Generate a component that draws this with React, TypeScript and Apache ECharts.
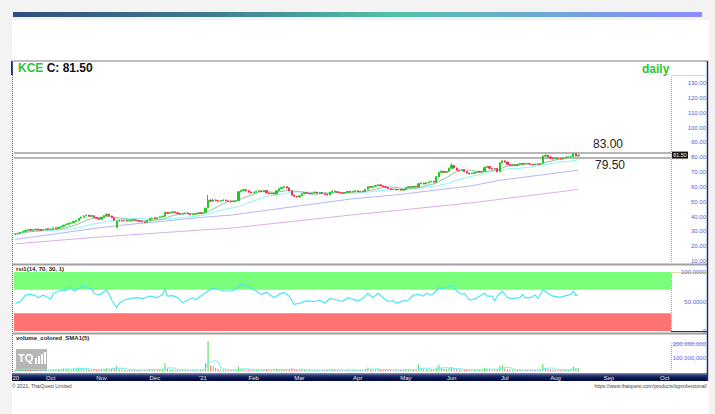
import React, { useEffect, useRef } from "react";
import * as echarts from "echarts";

const FONT = "'Liberation Sans', Arial, sans-serif";
const symbolName = "KCE";
const lastClose = 81.5;
const N = 259;

// [open, close, low, high] per trading day
const ohlc: number[][] = [
  [28.0,28.2,27.6,28.6],[28.4,28.8,28.0,29.0],[28.8,29.4,28.6,29.6],[29.6,30.0,29.2,30.4],[30.0,30.6,29.8,31.0],
  [30.8,31.2,30.4,31.6],[31.4,30.8,30.6,31.6],[30.8,31.0,30.4,31.4],[31.0,31.4,30.8,31.8],[31.6,31.0,30.8,31.8],
  [31.2,30.8,30.4,31.4],[30.8,31.2,30.6,31.4],[31.2,31.6,31.0,32.0],[31.8,31.2,31.0,32.0],[31.2,31.6,31.0,31.8],
  [31.8,32.2,31.4,32.6],[32.4,32.0,31.8,32.6],[32.0,32.8,31.8,33.0],[32.8,33.4,32.6,33.6],[33.4,34.2,33.2,34.4],
  [34.4,34.8,34.0,35.2],[34.8,35.4,34.6,35.8],[35.6,35.8,35.2,36.2],[35.8,36.6,35.6,36.8],[36.6,37.4,36.4,37.6],
  [37.4,38.8,37.2,39.0],[39.0,39.6,38.6,40.0],[39.6,40.4,39.4,40.8],[40.6,40.8,40.2,41.4],[41.0,40.2,40.0,41.2],
  [40.2,40.6,39.8,41.0],[40.6,39.4,39.2,40.8],[39.4,38.8,38.4,39.6],[38.8,38.2,37.8,39.0],[38.2,39.4,38.0,39.6],
  [39.4,40.6,39.2,40.8],[40.6,41.6,40.4,42.0],[41.6,40.4,40.2,41.8],[40.4,39.2,39.0,40.6],[39.2,37.6,37.2,39.4],
  [32.8,37.0,32.2,37.4],[37.0,37.2,36.6,37.8],[37.4,37.0,36.8,37.8],[37.0,37.4,36.8,37.8],[37.6,37.0,36.8,37.8],
  [37.0,37.2,36.8,37.6],[37.2,37.8,37.0,38.2],[37.8,37.6,37.2,38.0],[37.6,37.2,37.0,37.8],[37.2,36.8,36.6,37.4],
  [36.8,36.4,36.2,37.0],[36.4,36.2,35.8,36.6],[36.2,37.4,36.0,37.6],[37.4,38.6,37.2,38.8],[38.6,39.0,38.4,39.4],
  [39.2,38.6,38.4,39.4],[38.6,39.2,38.4,39.4],[39.2,39.8,39.0,40.2],[39.8,40.2,39.6,40.6],[40.2,42.8,40.0,43.4],
  [42.8,42.2,41.8,43.0],[42.2,42.6,42.0,43.0],[42.6,43.2,42.4,43.6],[43.2,42.6,42.4,43.4],[42.6,42.0,41.8,42.8],
  [42.0,41.6,41.4,42.2],[41.6,42.0,41.4,42.4],[42.0,42.4,41.8,42.6],[42.4,41.8,41.6,42.6],[41.8,41.2,41.0,42.0],
  [41.2,41.6,41.0,41.8],[41.6,42.0,41.4,42.2],[42.0,42.6,41.8,42.8],[42.6,42.2,42.0,42.8],[42.2,42.8,42.0,43.0],
  [43.0,45.6,42.8,46.0],[46.0,51.0,45.8,54.6],[51.0,50.4,49.8,51.6],[50.4,51.2,50.2,51.8],[51.2,50.8,50.4,51.6],
  [50.8,50.4,50.0,51.0],[50.4,50.8,50.2,51.2],[50.8,51.2,50.6,51.6],[51.2,50.6,50.4,51.4],[50.6,50.2,50.0,50.8],
  [50.2,50.0,49.6,50.6],[50.0,50.4,49.8,50.6],[50.4,50.6,50.2,51.0],[50.8,56.8,50.6,57.2],[56.8,57.6,56.4,58.0],
  [57.6,58.2,57.2,58.6],[58.2,57.4,57.0,58.4],[57.4,56.6,56.2,57.6],[56.6,56.0,55.6,56.8],[56.0,56.4,55.8,56.8],
  [56.4,57.0,56.2,57.4],[57.0,57.4,56.8,57.8],[57.4,56.8,56.6,57.6],[56.8,57.6,56.6,58.0],[57.6,56.0,55.8,57.8],
  [56.0,55.4,55.0,56.2],[55.4,55.8,55.2,56.0],[55.8,55.2,55.0,56.0],[55.2,57.4,55.0,57.6],[57.4,58.8,57.2,59.0],
  [58.8,59.6,58.6,60.0],[59.6,60.2,59.2,60.6],[60.2,59.4,59.0,60.4],[59.4,57.4,57.2,59.6],[57.4,54.6,54.2,57.6],
  [54.6,53.6,53.2,54.8],[53.6,53.2,52.8,53.8],[53.2,54.0,53.0,54.4],[54.0,55.4,53.8,55.6],[55.4,56.2,55.2,56.4],
  [56.2,55.8,55.6,56.6],[55.8,55.4,55.2,56.0],[55.4,56.0,55.2,56.2],[56.0,56.4,55.8,56.8],[56.4,55.8,55.6,56.6],
  [55.8,56.2,55.6,56.4],[56.2,55.6,55.4,56.4],[55.6,55.0,54.8,55.8],[55.0,54.6,54.2,55.2],[54.6,56.4,54.4,56.6],
  [56.4,57.2,56.2,57.6],[57.2,56.8,56.6,57.4],[56.8,56.4,56.2,57.0],[56.4,56.0,55.8,56.6],[56.0,55.8,55.6,56.2],
  [55.8,56.4,55.6,56.6],[56.4,57.0,56.2,57.2],[57.0,56.6,56.4,57.2],[56.6,57.0,56.4,57.2],[57.0,57.4,56.8,57.6],
  [57.4,56.8,56.6,57.6],[56.8,57.2,56.6,57.4],[57.2,57.0,56.8,57.4],[57.0,58.4,56.8,58.6],[58.4,60.2,58.2,60.6],
  [60.2,59.8,59.4,60.4],[59.8,60.4,59.6,60.8],[60.4,60.8,60.2,61.2],[60.8,61.4,60.6,61.8],[61.4,60.8,60.6,61.6],
  [60.8,60.2,60.0,61.0],[60.2,59.6,59.4,60.4],[59.6,58.8,58.6,59.8],[58.8,58.2,58.0,59.0],[58.2,58.6,58.0,58.8],
  [58.6,58.0,57.8,58.8],[58.0,58.4,57.8,58.6],[58.4,57.8,57.6,58.6],[57.8,58.2,57.6,58.4],[58.2,59.6,58.0,59.8],
  [59.6,60.2,59.4,60.4],[60.2,59.8,59.6,60.4],[59.8,60.4,59.6,60.6],[60.4,60.0,59.8,60.6],[60.0,62.2,59.8,62.6],
  [62.2,62.6,62.0,63.0],[62.6,62.0,61.8,62.8],[62.0,62.8,61.8,63.0],[62.8,63.4,62.6,63.6],[63.4,63.8,63.2,64.0],
  [63.8,63.2,63.0,64.0],[63.2,66.8,63.0,67.2],[66.8,69.8,66.6,70.4],[69.8,70.6,69.4,71.2],[70.6,69.8,69.4,70.8],
  [69.8,70.4,69.6,70.8],[70.4,72.6,70.2,73.0],[72.6,74.6,72.4,76.0],[74.6,72.8,72.4,74.8],[72.8,71.4,71.0,73.0],
  [71.4,71.0,70.6,71.6],[71.0,71.6,70.8,71.8],[71.6,70.4,70.2,71.8],[70.4,69.4,69.2,70.6],[69.4,68.8,68.4,69.6],
  [68.8,69.2,68.6,69.6],[69.2,69.8,69.0,70.0],[69.8,70.4,69.6,70.6],[70.4,70.0,69.8,70.6],[70.0,70.6,69.8,70.8],
  [70.6,73.2,70.4,73.6],[73.2,73.8,73.0,74.2],[73.8,72.6,72.4,74.0],[72.6,72.0,71.8,72.8],[72.0,72.4,71.8,72.6],
  [72.4,70.2,70.0,72.6],[70.4,76.2,70.2,76.6],[76.2,77.6,76.0,78.0],[77.6,76.8,76.4,77.8],[76.8,75.2,75.0,77.0],
  [75.2,74.6,74.2,75.4],[74.6,75.0,74.4,75.2],[75.0,74.4,74.2,75.2],[74.4,75.2,74.2,75.4],[75.2,75.8,75.0,76.0],
  [75.8,75.4,75.2,76.0],[75.4,76.0,75.2,76.2],[76.0,75.6,75.4,76.2],[75.6,75.2,75.0,75.8],[75.2,74.8,74.6,75.4],
  [74.8,75.4,74.6,75.6],[75.4,75.2,75.0,75.6],[75.2,75.8,75.0,76.0],[76.0,80.8,75.8,81.2],[80.8,81.4,80.4,81.8],
  [81.4,80.2,80.0,81.6],[80.2,79.4,79.2,80.4],[79.4,79.0,78.8,79.6],[79.0,79.4,78.8,79.6],[79.4,79.2,79.0,79.6],
  [79.2,78.8,78.6,79.4],[78.8,79.6,78.6,79.8],[79.6,80.2,79.4,80.4],[80.2,80.4,80.0,80.6],[80.4,80.6,80.2,80.8],
  [80.6,82.4,80.4,83.0],[82.4,81.0,80.8,82.6],[81.0,81.5,80.8,81.8]
];

// volume in millions of shares
const volumeM: number[] = [
  14,12,16,18,15,20,12,10,13,11, 9,12,14,10,12,15,11,16,18,22,
  19,17,15,20,24,30,22,18,16,14, 12,15,13,11,17,20,24,15,18,28,
  40,20,14,12,10,11,13,12,10,9, 10,11,15,18,14,12,13,16,18,60,
  22,15,14,12,11,10,12,11,9,10, 12,10,11,13,18,60,220,45,40,25,
  18,14,12,11,10,9,11,13,35,22, 16,13,12,10,11,14,12,10,15,18,
  12,10,11,20,16,14,13,10,15,24, 18,12,11,14,13,10,9,11,12,10,
  9,10,11,12,16,14,11,10,9,10, 11,13,10,9,12,10,11,10,18,30,
  16,14,15,20,13,12,11,14,12,10, 11,10,12,11,18,15,12,13,11,52,
  24,16,18,14,15,12,30,47,26,18, 16,25,33,20,17,14,12,15,13,11,
  10,12,14,11,13,28,20,15,12,14, 18,40,47,22,16,12,11,10,13,12,
  10,11,12,10,11,12,10,13,52,28, 18,15,12,11,10,12,14,13,11,15,
  37,20,22
];

// RSI(14) readings [dayIndex, value]
const rsiPoints: number[][] = [
  [0,47],[2,49.7],[4,61],[6,62],[8,60],[9,56.5],[11,61],[12,59],[14,53.7],[15,64],[17,67.8],[20,68.9],
  [22,74],[23,67.8],[25,72.3],[27,76.8],[28,73],[30,72.3],[31,64],[33,61],[34,64],[36,69.5],[37,62],
  [38,52.5],[40,39.5],[41,47],[43,52.5],[45,55],[48,56.5],[50,55],[53,59],[56,56.5],[58,62],[59,70.7],
  [60,59],[62,60],[64,56.5],[66,48],[68,52.5],[70,56.5],[71,52.5],[73,59],[76,67.8],[78,72.3],[80,70.7],
  [82,67.8],[84,67.8],[86,68.5],[88,75],[89,79],[91,76.8],[93,72.3],[95,67.8],[97,62],[99,65.5],
  [102,56.5],[104,62],[106,65.5],[108,59],[110,45.2],[112,47],[115,51],[118,50],[120,52.5],[122,47],
  [124,55],[127,52.5],[129,50],[131,56.5],[133,54],[135,51],[137,55],[139,64],[141,56.5],[143,64],
  [145,56.5],[147,50],[149,51.5],[150,47],[153,51],[155,52.5],[157,61],[159,62],[161,59],[162,64],
  [164,61],[165,64],[167,73.4],[168,72.3],[170,73.4],[172,76.8],[174,67.8],[176,62],[177,64],[179,52.5],
  [181,54],[183,59],[185,64],[186,59],[188,59],[189,51],[190,59],[192,67.8],[194,56.5],[196,55],
  [199,56.5],[200,62],[201,56.5],[203,56.5],[205,61],[206,55],[208,69.5],[210,64],[212,59],[215,57],
  [217,60],[219,62],[220,67.8],[221,60],[222,62]
];

// long moving averages [dayIndex, value]
const maBluePoints: number[][] = [
  [0,24.6],[33,32.4],[41,34.0],[73,39.4],[85,41.0],[132,51.8],[152,55.0],[180,60.8],[191,64.5],[222,71.3]
];
const maPurplePoints: number[][] = [
  [0,21.6],[33,26.2],[73,30.9],[85,32.2],[132,41.0],[152,44.4],[180,49.3],[222,58.3]
];

const monthIdx = [0, 14, 34, 55, 74, 94, 112, 135, 154, 172, 193, 213, 234, 256];
const monthLabels = ["'20", "Oct", "Nov", "Dec", "'21", "Feb", "Mar", "Apr", "May", "Jun", "Jul", "Aug", "Sep", "Oct"];
const priceTicks = [10, 20, 30, 40, 50, 60, 70, 80, 90, 100, 110, 120, 130];
const rsiTicks = [0, 50, 100];
const volTicks = [100000000, 200000000];
const levels = [83.0, 79.5];

function sma(vals: number[], n: number): number[] {
  return vals.map((_, i) => {
    const s = Math.max(0, i - n + 1);
    let sum = 0;
    for (let k = s; k <= i; k++) sum += vals[k];
    return +(sum / (i - s + 1)).toFixed(3);
  });
}

export default function App() {
  const ref = useRef<HTMLDivElement>(null);
  useEffect(() => {
    const chart = echarts.init(ref.current!, null, { renderer: "svg" });
    const closes = ohlc.map((d) => d[1]);
    const ma10 = sma(closes, 10).map((v, i) => [i, v]);
    const ma25 = sma(closes, 25).map((v, i) => [i, v]);
    const vols = volumeM.map((v) => v * 1e6);
    const vma5 = sma(vols, 5).map((v, i) => [i, v]);
    const cats = Array.from({ length: N }, (_, i) => String(i));
    const labelAt: Record<number, string> = {};
    monthIdx.forEach((idx, k) => (labelAt[idx] = monthLabels[k]));
    const axisFont = { fontSize: 6, color: "#5262e0", fontFamily: FONT };
    const grids = [
      { left: 14, top: 61, width: 657, height: 203 },
      { left: 14, top: 265, width: 657, height: 68 },
      { left: 14, top: 333, width: 657, height: 38.5 },
    ];
    const option: any = {
      animation: false,
      textStyle: { fontFamily: FONT },
      grid: grids,
      xAxis: [0, 1, 2].map((k) => ({
        type: "category",
        gridIndex: k,
        data: cats,
        boundaryGap: true,
        axisLine: { show: false },
        axisTick: { show: false },
        splitLine: { show: false },
        axisLabel:
          k === 2
            ? {
                show: true,
                interval: (i: number) => labelAt[i] !== undefined,
                formatter: (_v: string, i: number) => labelAt[i] ?? "",
                fontSize: 6,
                color: "#f2ead0",
                margin: 3,
                fontFamily: FONT,
              }
            : { show: false },
      })),
      yAxis: [
        {
          gridIndex: 0, type: "value", position: "right", min: 8, max: 145,
          splitLine: { show: false }, axisLine: { show: false }, axisTick: { show: false },
          axisLabel: { customValues: priceTicks, formatter: (v: number) => v.toFixed(2), align: "right", margin: 35, ...axisFont },
        },
        {
          gridIndex: 1, type: "value", position: "right", min: -3.4, max: 111.9,
          splitLine: { show: false }, axisLine: { show: false }, axisTick: { show: false },
          axisLabel: { customValues: rsiTicks, formatter: (v: number) => (v === 0 ? "0" : v.toFixed(4)), align: "right", margin: 35, ...axisFont },
        },
        {
          gridIndex: 2, type: "value", position: "right", min: 0, max: 280000000,
          splitLine: { show: false }, axisLine: { show: false }, axisTick: { show: false },
          axisLabel: { customValues: volTicks, formatter: (v: number) => v.toLocaleString("en-US"), align: "right", margin: 35, ...axisFont },
        },
      ],
      series: [
        {
          type: "line", xAxisIndex: 0, yAxisIndex: 0, data: maPurplePoints, symbol: "none", z: 2,
          lineStyle: { color: "#dcaee2", width: 1 },
        },
        {
          type: "line", xAxisIndex: 0, yAxisIndex: 0, data: maBluePoints, symbol: "none", z: 2,
          lineStyle: { color: "#b3b6ff", width: 1 },
        },
        {
          type: "line", xAxisIndex: 0, yAxisIndex: 0, data: ma25, symbol: "none", z: 2,
          lineStyle: { color: "#8ef3f3", width: 1 },
        },
        {
          type: "line", xAxisIndex: 0, yAxisIndex: 0, data: ma10, symbol: "none", z: 3,
          lineStyle: { color: "#94bda1", width: 1 },
        },
        {
          type: "candlestick", xAxisIndex: 0, yAxisIndex: 0, data: ohlc, barWidth: "70%", z: 5,
          itemStyle: { color: "#1fc91f", color0: "#ff2d58", borderColor: "#1fc91f", borderColor0: "#ff2d58", borderWidth: 1 },
          markLine: {
            symbol: ["none", "none"], silent: true,
            lineStyle: { color: "#b6b6b6", width: 2, type: "solid" },
            data: [
              { yAxis: levels[0], label: { position: "insideEndTop", formatter: levels[0].toFixed(2), padding: [0, 45, 0, 0], distance: 3, fontSize: 12, color: "#222", fontFamily: FONT } },
              { yAxis: levels[1], label: { position: "insideEndBottom", formatter: levels[1].toFixed(2), padding: [0, 45, 0, 0], distance: 1, fontSize: 12, color: "#222", fontFamily: FONT } },
            ],
          },
        },
        {
          type: "line", xAxisIndex: 1, yAxisIndex: 1, data: rsiPoints, symbol: "none", z: 5,
          lineStyle: { color: "#4ae6f4", width: 1.2 },
          markArea: {
            silent: true,
            data: [
              [{ yAxis: 70, itemStyle: { color: "#7aff7a" } }, { yAxis: 100 }],
              [{ yAxis: 0, itemStyle: { color: "#ff7373" } }, { yAxis: 30 }],
            ],
          },
        },
        {
          type: "bar", xAxisIndex: 2, yAxisIndex: 2, barWidth: 1,
          data: vols.map((v, i) => ({ value: v, itemStyle: { color: ohlc[i][1] >= ohlc[i][0] ? "#46d846" : "#ff6478" } })),
        },
        {
          type: "line", xAxisIndex: 2, yAxisIndex: 2, data: vma5, symbol: "none", z: 4,
          lineStyle: { color: "#72eef4", width: 1 },
        },
      ],
    };
    chart.setOption(option);
    const ty = chart.convertToPixel({ yAxisIndex: 0 } as any, lastClose) as unknown as number;
    const txt = (x: number, y: number, text: string, extra: any) => ({
      type: "text", x, y, style: { text, fontFamily: FONT, ...extra },
    });
    const graphic: any[] = [
      { type: "rect", shape: { x: 11, y: 61, width: 2, height: 14 }, style: { fill: "#1b2b8c" } },
      { type: "line", shape: { x1: 12.5, y1: 61, x2: 12.5, y2: 372 }, style: { stroke: "#666", lineWidth: 1, lineDash: [1, 1] } },
      { type: "line", shape: { x1: 12, y1: 61, x2: 708, y2: 61 }, style: { stroke: "#a8a8a8", lineWidth: 1.5 } },
      { type: "line", shape: { x1: 12, y1: 264.5, x2: 708, y2: 264.5 }, style: { stroke: "#a0a0a0", lineWidth: 2 } },
      { type: "line", shape: { x1: 12, y1: 333.5, x2: 708, y2: 333.5 }, style: { stroke: "#a0a0a0", lineWidth: 2 } },
      { type: "line", shape: { x1: 707.5, y1: 61, x2: 707.5, y2: 381 }, style: { stroke: "#1e2c78", lineWidth: 1.5 } },
      ...[[75, 263], [272, 331], [343, 371]].map(([a, b]) => ({
        type: "line", shape: { x1: 671.5, y1: a, x2: 671.5, y2: b }, style: { stroke: "#b8a468", lineWidth: 1, lineDash: [1, 1] },
      })),
      ...[75.5, 272.5, 343.5].map((y) => ({
        type: "line", shape: { x1: 671, y1: y, x2: 707, y2: y }, style: { stroke: "#e6d9a8", lineWidth: 1 },
      })),
      { type: "line", shape: { x1: 671, y1: 331.5, x2: 707, y2: 331.5 }, style: { stroke: "#1e2c78", lineWidth: 1 } },
      {
        type: "text", x: 18, y: 62,
        style: {
          text: `{g|${symbolName}} {k|C: ${lastClose.toFixed(2)}}`,
          fontFamily: FONT,
          rich: {
            g: { fill: "#2fc42f", fontSize: 12, fontWeight: "bold", fontFamily: FONT },
            k: { fill: "#111", fontSize: 12, fontWeight: "bold", fontFamily: FONT },
          },
        },
      },
      txt(642, 63, "daily", { fill: "#2fc42f", fontSize: 12, fontWeight: "bold" }),
      txt(16, 266, "rsi1(14, 70, 30, 1)", { fill: "#222", fontSize: 6, fontWeight: "bold" }),
      txt(16, 335, "volume_colored_SMA1(5)", { fill: "#222", fontSize: 6, fontWeight: "bold" }),
      { type: "rect", shape: { x: 16, y: 349, width: 31, height: 22 }, style: { fill: "#a9a9a9", opacity: 0.85 } },
      txt(18, 352, "TQ", { fill: "#fff", fontSize: 11, fontWeight: "bold" }),
      ...[[35, 6], [38, 8], [41, 10], [44, 12]].map(([x, h]) => ({
        type: "rect", shape: { x, y: 364 - h, width: 2, height: h }, style: { fill: "#fff" },
      })),
      txt(12, 383, "\u00a9 2021, ThaiQuest Limited", { fill: "#444", fontSize: 5 }),
      txt(707, 383, "https://www.thaiquest.com/products/tqprofessional/", { fill: "#444", fontSize: 5, align: "right", textAlign: "right" }),
      { type: "rect", shape: { x: 672, y: ty - 3.5, width: 16, height: 7 }, style: { fill: "#111" } },
      txt(680, ty, lastClose.toFixed(2), { fill: "#eee", fontSize: 5.5, align: "center", textAlign: "center", verticalAlign: "middle", textVerticalAlign: "middle" }),
    ];
    chart.setOption({ graphic: { elements: graphic } });
    return () => chart.dispose();
  }, []);

  return (
    <div style={{ position: "fixed", left: 0, top: 0, width: 715, height: 414, overflow: "hidden", background: "#f3f3f3" }}>
      <div style={{ position: "absolute", left: 12, top: 20, width: 697, height: 394, background: "#ffffff" }} />
      <div
        style={{
          position: "absolute", left: 13, top: 12, width: 689, height: 5,
          background: "linear-gradient(90deg, #2f4c7e 0%, #3f7f90 30%, #52c0a8 55%, #6aaad0 75%, #8c8cff 100%)",
        }}
      />
      <div
        style={{
          position: "absolute", left: 12, top: 373, width: 696, height: 8,
          background: "linear-gradient(180deg, #8a96b8 0%, #2a3a78 30%, #0a1650 60%, #000a3a 100%)",
        }}
      />
      <div ref={ref} style={{ position: "absolute", left: 0, top: 0, width: 715, height: 414 }} />
    </div>
  );
}
